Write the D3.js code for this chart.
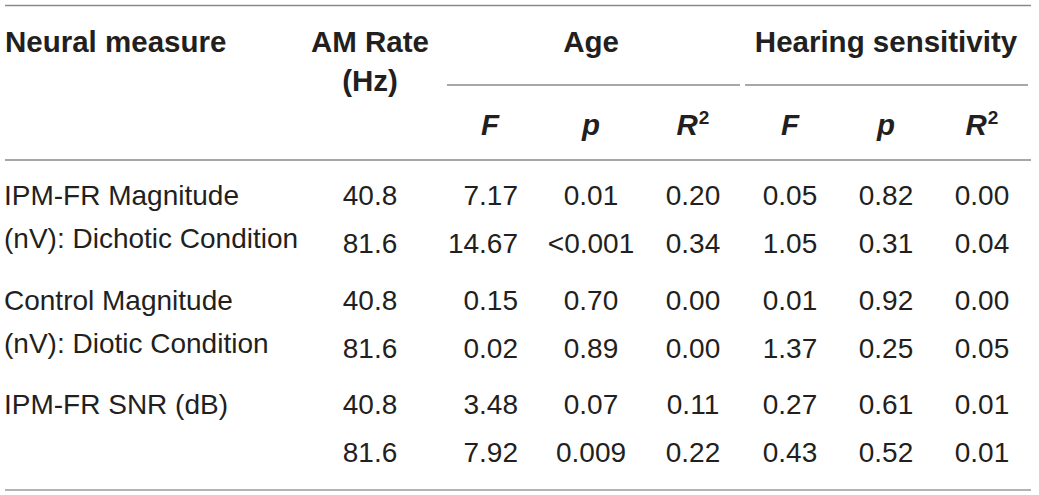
<!DOCTYPE html>
<html>
<head>
<meta charset="utf-8">
<script src="https://cdn.jsdelivr.net/npm/d3@7"></script>
<style>
  html, body { margin: 0; padding: 0; background: #fff; }
  svg { display: block; }
  text { font-family: "Liberation Sans", Arial, Helvetica, sans-serif; fill: #231f20; }
</style>
</head>
<body>
<svg id="chart" width="1039" height="495"></svg>
<script>
// ---- Data ----
const measures = ["IPM-FR Magnitude", "Control Magnitude", "IPM-FR SNR (dB)"];
const measureLabels = [
  ["IPM-FR Magnitude", "(nV): Dichotic Condition"],
  ["Control Magnitude", "(nV): Diotic Condition"],
  ["IPM-FR SNR (dB)"]
];
const rates = ["40.8", "81.6"];
const ageF  = ["7.17", "14.67", "0.15", "0.02", "3.48", "7.92"];
const ageP  = ["0.01", "<0.001", "0.70", "0.89", "0.07", "0.009"];
const ageR2 = ["0.20", "0.34", "0.00", "0.00", "0.11", "0.22"];
const hearF  = ["0.05", "1.05", "0.01", "1.37", "0.27", "0.43"];
const hearP  = ["0.82", "0.31", "0.92", "0.25", "0.61", "0.52"];
const hearR2 = ["0.00", "0.04", "0.00", "0.05", "0.01", "0.01"];
const groupHeaders = ["Age", "Hearing sensitivity"];
const statHeaders = ["F", "p", "R"];

// ---- Layout ----
const svg = d3.select("#chart");
const fs = 28;
const fsBold = 29.5;

const cols = ["rate", "ageF", "ageP", "ageR2", "hearF", "hearP", "hearR2"];
const x = d3.scaleOrdinal().domain(cols).range([370, 490, 591, 693, 790, 886, 982]);
const yGroup = d3.scalePoint().domain(measures).range([205, 414]);
const yRate = d3.scalePoint().domain(rates).range([0, 48]);
const rowY = i => yGroup(measures[Math.floor(i / 2)]) + yRate(rates[i % 2]);

// Rules
function hline(x1, x2, y, color, w) {
  svg.append("line").attr("x1", x1).attr("x2", x2).attr("y1", y).attr("y2", y)
    .attr("stroke", color).attr("stroke-width", w);
}
hline(5, 1031, 5.5, "#8a8a8a", 1.6);
hline(447, 740, 85, "#8a8a8a", 1.4);
hline(745, 1028, 85, "#8a8a8a", 1.4);
hline(5, 1031, 160, "#8a8a8a", 1.6);
hline(5, 1031, 490, "#b4b4b4", 1.8);

// Headers
const bold = sel => sel.attr("font-weight", "bold").attr("font-size", fsBold);
bold(svg.append("text").attr("x", 5).attr("y", 52).text("Neural measure"));
bold(svg.append("text").attr("x", x("rate")).attr("y", 52).attr("text-anchor", "middle").text("AM Rate"));
bold(svg.append("text").attr("x", x("rate")).attr("y", 91).attr("text-anchor", "middle").text("(Hz)"));
bold(svg.append("text").attr("x", x("ageP")).attr("y", 52).attr("text-anchor", "middle").text(groupHeaders[0]));
bold(svg.append("text").attr("x", x("hearP")).attr("y", 52).attr("text-anchor", "middle").text(groupHeaders[1]));

const statCols = [["ageF", 0], ["ageP", 1], ["ageR2", 2], ["hearF", 0], ["hearP", 1], ["hearR2", 2]];
statCols.forEach(([c, k]) => {
  const t = svg.append("text").attr("x", x(c)).attr("y", 135).attr("text-anchor", "middle")
    .attr("font-weight", "bold").attr("font-style", "italic").attr("font-size", fsBold);
  t.append("tspan").text(statHeaders[k]);
  if (k === 2) {
    t.append("tspan").attr("dx", 1).attr("dy", -11).attr("font-size", 19).attr("font-style", "normal").text("2");
  }
});

// Body: measure labels
measureLabels.forEach((lines, g) => {
  lines.forEach((ln, j) => {
    svg.append("text").attr("x", 4).attr("y", yGroup(measures[g]) + j * 43)
      .attr("font-size", fs).text(ln);
  });
});

// Body: values
const columnsData = [
  ["rate", d3.range(6).map(i => rates[i % 2]), "middle"],
  ["ageF", ageF, "end"],
  ["ageP", ageP, "middle"],
  ["ageR2", ageR2, "middle"],
  ["hearF", hearF, "middle"],
  ["hearP", hearP, "middle"],
  ["hearR2", hearR2, "middle"]
];
columnsData.forEach(([c, vals, anchor]) => {
  svg.append("g").selectAll("text").data(vals).join("text")
    .attr("x", anchor === "end" ? x(c) + 28 : x(c))
    .attr("y", (d, i) => rowY(i))
    .attr("text-anchor", anchor)
    .attr("font-size", fs)
    .text(d => d);
});
</script>
</body>
</html>
